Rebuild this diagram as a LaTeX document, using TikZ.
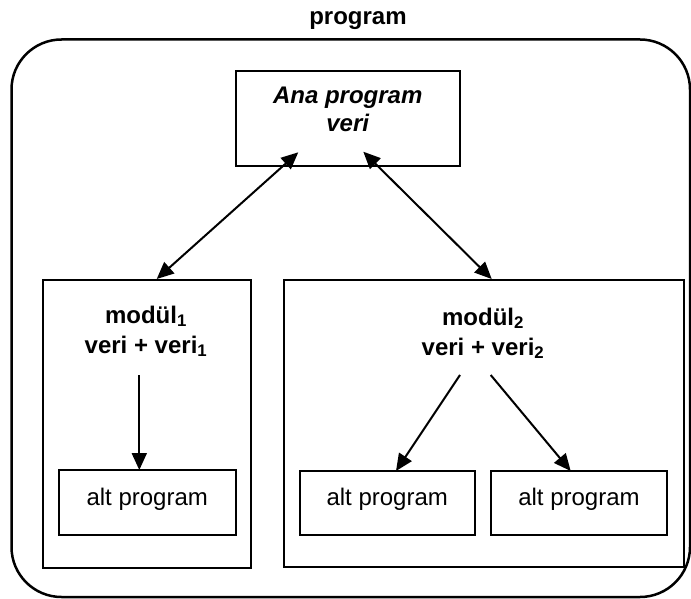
\documentclass[tikz,border=0pt]{standalone}
\usepackage{fontspec}
\setmainfont{Liberation Sans}
\usetikzlibrary{arrows.meta,calc}
\begin{document}
\begin{tikzpicture}[x=1pt,y=-1pt,
  font=\fontsize{24}{28}\selectfont,
  box/.style={draw, line width=2pt, inner sep=0pt, outer sep=0pt},
  lbl/.style={anchor=base, inner sep=0pt, font=\fontsize{24}{28}\selectfont},
  bflbl/.style={anchor=base, inner sep=0pt, font=\fontsize{24}{28}\selectfont\bfseries},
  bilbl/.style={anchor=base, inner sep=0pt, font=\fontsize{24}{28}\selectfont\bfseries\itshape},
  tip/.tip={Triangle[length=17pt,width=15pt]},
  arr/.style={line width=2pt, -tip},
  darr/.style={line width=2pt, tip-tip}]
\useasboundingbox (0,0) rectangle (691,599);

% outer container
\node[draw, line width=2.5pt, rounded corners=50pt, inner sep=0pt, outer sep=0pt,
      minimum width=678.5pt, minimum height=557.5pt] (outer) at (350.75,318.25) {};
\node[bflbl] (title) at (358,25) {program};

% main program box
\node[box, minimum width=224.5pt, minimum height=95.5pt] (ana) at (347.75,118.75) {};
\node[bilbl] (anat1) at (347.75,104) {Ana program};
\node[bilbl] (anat2) at (347.75,132) {veri};

% modules
\node[box, minimum width=208pt, minimum height=288pt] (m1) at (147,423.5) {};
\node[box, minimum width=400pt, minimum height=287.5pt] (m2) at (483.5,423.25) {};
\node[bflbl] (m1t1) at (146,323) {modül\textsubscript{1}};
\node[bflbl] (m1t2) at (146,353) {veri + veri\textsubscript{1}};
\node[bflbl] (m2t1) at (483,325) {modül\textsubscript{2}};
\node[bflbl] (m2t2) at (483,355) {veri + veri\textsubscript{2}};

% sub programs
\node[box, minimum width=176.5pt, minimum height=65pt] (alt1) at (147.25,502.5) {};
\node[box, minimum width=175.5pt, minimum height=64pt] (alt2) at (387.25,503) {};
\node[box, minimum width=176pt, minimum height=64pt] (alt3) at (579,503) {};
\node[lbl] (alt1t) at (147.25,505) {alt program};
\node[lbl] (alt2t) at (387.25,505) {alt program};
\node[lbl] (alt3t) at (579,505) {alt program};

% connectors main <-> modules
\coordinate (a1) at (298.3,152.3);
\coordinate (b1) at (156.7,279);
\coordinate (a2) at (363.3,151.7);
\coordinate (b2) at (491.7,279);
\draw[darr] (b1) -- (a1);
\draw[darr] (a2) -- (b2);

% connectors module -> sub programs
\coordinate (s1) at (139.3,375);
\draw[arr] (s1) -- (s1 |- alt1.north);
\coordinate (s2) at (460,375);
\coordinate (e2) at (396,471);
\draw[arr] (s2) -- (e2);
\coordinate (s3) at (490.7,375);
\coordinate (e3) at (570.7,471);
\draw[arr] (s3) -- (e3);
\end{tikzpicture}
\end{document}
